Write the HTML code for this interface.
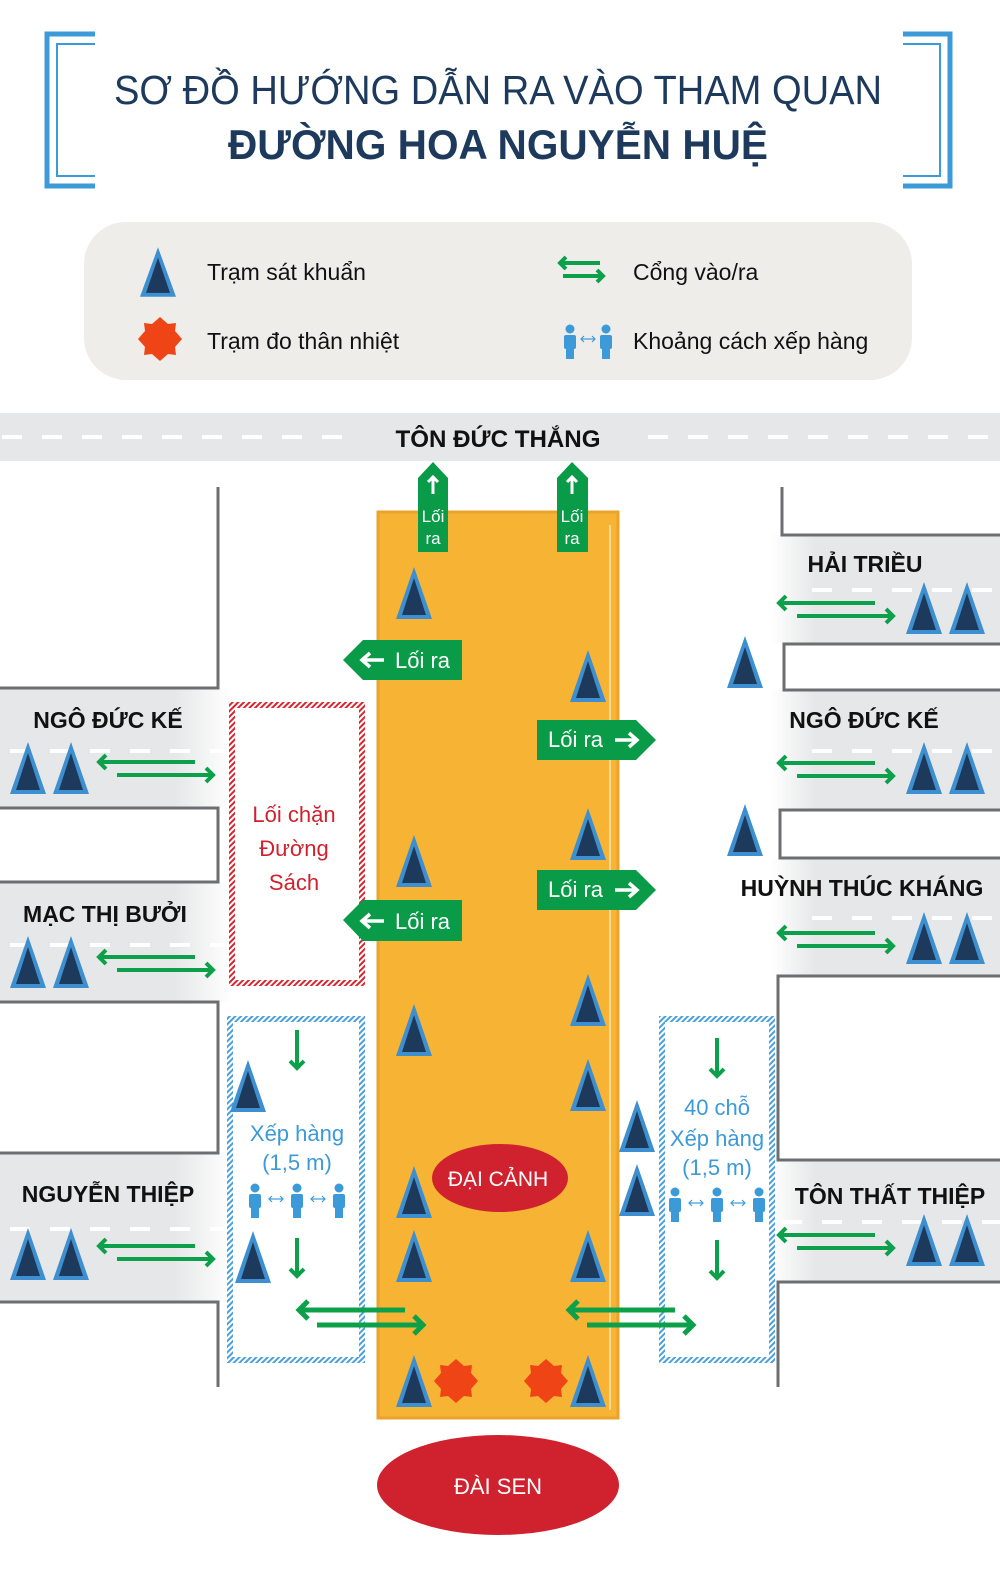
<!DOCTYPE html>
<html><head><meta charset="utf-8"><style>
html,body{margin:0;padding:0;background:#fff;}
svg{display:block;}
text{font-family:"Liberation Sans","DejaVu Sans",sans-serif;}
</style></head><body>
<svg width="1000" height="1575" viewBox="0 0 1000 1575" xmlns="http://www.w3.org/2000/svg">
<defs>
<pattern id="hr" width="4" height="4" patternUnits="userSpaceOnUse" patternTransform="rotate(45)"><rect width="2" height="4" fill="#d8252f"/></pattern>
<pattern id="hb" width="4" height="4" patternUnits="userSpaceOnUse" patternTransform="rotate(45)"><rect width="2" height="4" fill="#4aa0dc"/></pattern>
<linearGradient id="gl" x1="0" x2="1"><stop offset="0.75" stop-color="#e6e7e8"/><stop offset="1" stop-color="#fff"/></linearGradient>
<linearGradient id="gr" x1="1" x2="0"><stop offset="0.8" stop-color="#e6e7e8"/><stop offset="1" stop-color="#fff"/></linearGradient>
<g id="tri"><polygon points="0,-26 -18,26 18,26" fill="#3d8fd0"/><polygon points="0,-15 -12,22 12,22" fill="#1d3a5c"/></g>
<g id="star"><polygon points="0,-22 8,-15 16,-16 15,-8 22,0 15,8 16,16 8,15 0,22 -8,15 -16,16 -15,8 -22,0 -15,-8 -16,-16 -8,-15" fill="#ef4416"/></g>
<g id="pair" stroke="#0da04a" stroke-width="4" fill="none"><line x1="2" y1="0" x2="98" y2="0"/><polyline points="9,-7 2,0 9,7"/><line x1="20" y1="13" x2="116" y2="13"/><polyline points="109,6 116,13 109,20"/></g>
<g id="pairB" stroke="#0da04a" stroke-width="5" fill="none"><line x1="2" y1="0" x2="108" y2="0"/><polyline points="11,-9 2,0 11,9"/><line x1="20" y1="15" x2="126" y2="15"/><polyline points="117,6 126,15 117,24"/></g>
<g id="dn" stroke="#0da04a" stroke-width="4" fill="none"><line x1="0" y1="0" x2="0" y2="38"/><polyline points="-7,31 0,38 7,31"/></g>
<g id="per" fill="#3d9ad8"><circle cx="0" cy="-12" r="4.5"/><rect x="-6" y="-6" width="12" height="14" rx="2"/><rect x="-4" y="6" width="8" height="12"/></g>
<g id="dbl" stroke="#3d9ad8" stroke-width="1.2" fill="none"><line x1="-7" y1="0" x2="7" y2="0"/><polyline points="-4,-3 -7,0 -4,3"/><polyline points="4,-3 7,0 4,3"/></g>
<g id="people"><use href="#per" x="-42"/><use href="#per" x="0"/><use href="#per" x="42"/><use href="#dbl" x="-21" y="-1"/><use href="#dbl" x="21" y="-1"/></g>
</defs>

<g fill="none" stroke="#3d9ad8">
<polyline points="95,34 47,34 47,186 95,186" stroke-width="5"/>
<polyline points="95,44 57,44 57,176 95,176" stroke-width="2"/>
<polyline points="903,34 950,34 950,186 903,186" stroke-width="5"/>
<polyline points="903,44 940,44 940,176 903,176" stroke-width="2"/>
</g>
<text x="498" y="104" font-size="41" fill="#1d3a5c" text-anchor="middle" textLength="768" lengthAdjust="spacingAndGlyphs">SƠ ĐỒ HƯỚNG DẪN RA VÀO THAM QUAN</text>
<text x="498" y="159" font-size="42" font-weight="bold" fill="#1d3a5c" text-anchor="middle" textLength="540" lengthAdjust="spacingAndGlyphs">ĐƯỜNG HOA NGUYỄN HUỆ</text>

<rect x="84" y="222" width="828" height="158" rx="42" fill="#efedea"/>
<g transform="translate(158,272) scale(1,0.95)"><use href="#tri"/></g>
<text x="207" y="280" font-size="23" fill="#111">Trạm sát khuẩn</text>
<use href="#star" x="160" y="339"/>
<text x="207" y="349" font-size="23" fill="#111">Trạm đo thân nhiệt</text>
<g stroke="#0da04a" stroke-width="4" fill="none"><line x1="560" y1="263" x2="600" y2="263"/><polyline points="566,257 560,263 566,269"/><line x1="563" y1="276" x2="603" y2="276"/><polyline points="597,270 603,276 597,282"/></g>
<text x="633" y="280" font-size="23" fill="#111">Cổng vào/ra</text>
<g transform="translate(588,341)"><use href="#per" x="-18"/><use href="#per" x="18"/><use href="#dbl" x="0" y="-2"/></g>
<text x="633" y="349" font-size="23" fill="#111">Khoảng cách xếp hàng</text>

<rect x="0" y="413" width="1000" height="48" fill="#e6e7e8"/>
<g stroke="#fff" stroke-width="4" stroke-dasharray="20,20"><line x1="2" y1="437" x2="350" y2="437"/><line x1="648" y1="437" x2="1000" y2="437"/></g>
<text x="498" y="447" font-size="24" font-weight="bold" fill="#111" text-anchor="middle" textLength="205" lengthAdjust="spacingAndGlyphs">TÔN ĐỨC THẮNG</text>

<rect x="0" y="688" width="232" height="120" fill="url(#gl)"/>
<rect x="0" y="882" width="232" height="120" fill="url(#gl)"/>
<rect x="0" y="1152" width="232" height="150" fill="url(#gl)"/>
<g stroke="#fff" stroke-width="4" stroke-dasharray="20,20"><line x1="10" y1="751" x2="230" y2="751"/><line x1="10" y1="945" x2="230" y2="945"/><line x1="10" y1="1229" x2="230" y2="1229"/></g>
<g fill="none" stroke="#6d6e71" stroke-width="3">
<polyline points="218,487 218,688 0,688"/>
<polyline points="0,808 218,808 218,882 0,882"/>
<polyline points="0,1002 218,1002 218,1153 0,1153"/>
<polyline points="0,1302 218,1302 218,1387"/>
</g>
<text x="108" y="728" font-size="23" font-weight="bold" fill="#111" text-anchor="middle">NGÔ ĐỨC KẾ</text>
<text x="105" y="922" font-size="23" font-weight="bold" fill="#111" text-anchor="middle">MẠC THỊ BƯỞI</text>
<text x="108" y="1202" font-size="23" font-weight="bold" fill="#111" text-anchor="middle">NGUYỄN THIỆP</text>
<use href="#tri" x="28" y="768"/><use href="#tri" x="71" y="768"/>
<use href="#tri" x="28" y="962"/><use href="#tri" x="71" y="962"/>
<use href="#tri" x="28" y="1254"/><use href="#tri" x="71" y="1254"/>
<use href="#pair" x="97" y="762"/>
<use href="#pair" x="97" y="957"/>
<use href="#pair" x="97" y="1246"/>

<rect x="770" y="535" width="230" height="108" fill="url(#gr)"/>
<rect x="770" y="690" width="230" height="120" fill="url(#gr)"/>
<rect x="770" y="858" width="230" height="118" fill="url(#gr)"/>
<rect x="770" y="1160" width="230" height="122" fill="url(#gr)"/>
<g stroke="#fff" stroke-width="4" stroke-dasharray="20,20"><line x1="812" y1="590" x2="1000" y2="590"/><line x1="812" y1="751" x2="1000" y2="751"/><line x1="812" y1="918" x2="1000" y2="918"/><line x1="782" y1="1222" x2="1000" y2="1222"/></g>
<g fill="none" stroke="#6d6e71" stroke-width="3">
<polyline points="782,487 782,535 1000,535"/>
<polyline points="1000,644 784,644 784,690 1000,690"/>
<polyline points="1000,810 780,810 780,858 1000,858"/>
<polyline points="1000,976 778,976 778,1160 1000,1160"/>
<polyline points="1000,1282 778,1282 778,1387"/>
</g>
<text x="865" y="572" font-size="23" font-weight="bold" fill="#111" text-anchor="middle">HẢI TRIỀU</text>
<text x="864" y="728" font-size="23" font-weight="bold" fill="#111" text-anchor="middle">NGÔ ĐỨC KẾ</text>
<text x="862" y="896" font-size="23" font-weight="bold" fill="#111" text-anchor="middle">HUỲNH THÚC KHÁNG</text>
<text x="890" y="1204" font-size="23" font-weight="bold" fill="#111" text-anchor="middle">TÔN THẤT THIỆP</text>
<use href="#tri" x="924" y="608"/><use href="#tri" x="967" y="608"/>
<use href="#tri" x="924" y="768"/><use href="#tri" x="967" y="768"/>
<use href="#tri" x="924" y="938"/><use href="#tri" x="967" y="938"/>
<use href="#tri" x="924" y="1240"/><use href="#tri" x="967" y="1240"/>
<use href="#pair" x="777" y="603"/>
<use href="#pair" x="777" y="763"/>
<use href="#pair" x="777" y="933"/>
<use href="#pair" x="777" y="1235"/>
<use href="#tri" x="745" y="662"/><use href="#tri" x="745" y="830"/>

<rect x="378" y="512" width="240" height="906" fill="#f7b334" stroke="#eaa42c" stroke-width="3"/>
<line x1="610" y1="525" x2="610" y2="1410" stroke="#fde6b0" stroke-width="1.5"/>

<rect x="232" y="705" width="130" height="278" fill="#fff" stroke="url(#hr)" stroke-width="6"/>
<text font-size="22" fill="#d0222e" text-anchor="middle"><tspan x="294" y="822">Lối chặn</tspan><tspan x="294" y="856">Đường</tspan><tspan x="294" y="890">Sách</tspan></text>
<rect x="230" y="1019" width="132" height="341" fill="#fff" stroke="url(#hb)" stroke-width="6"/>
<rect x="662" y="1019" width="110" height="341" fill="#fff" stroke="url(#hb)" stroke-width="6"/>
<text font-size="22" fill="#3d9ad8" text-anchor="middle"><tspan x="297" y="1141">Xếp hàng</tspan><tspan x="297" y="1170">(1,5 m)</tspan></text>
<text font-size="22" fill="#3d9ad8" text-anchor="middle"><tspan x="717" y="1115">40 chỗ</tspan><tspan x="717" y="1146">Xếp hàng</tspan><tspan x="717" y="1175">(1,5 m)</tspan></text>
<use href="#people" x="297" y="1200"/>
<use href="#people" x="717" y="1204"/>
<use href="#dn" x="297" y="1030"/><use href="#dn" x="297" y="1238"/>
<use href="#dn" x="717" y="1038"/><use href="#dn" x="717" y="1240"/>
<use href="#pairB" x="297" y="1310"/>
<use href="#pairB" x="567" y="1310"/>
<use href="#tri" x="248" y="1086"/><use href="#tri" x="253" y="1257"/>
<use href="#tri" x="637" y="1126"/><use href="#tri" x="637" y="1190"/>

<use href="#tri" x="414" y="593"/><use href="#tri" x="588" y="676"/>
<use href="#tri" x="414" y="861"/><use href="#tri" x="588" y="834"/>
<use href="#tri" x="588" y="1000"/><use href="#tri" x="414" y="1030"/>
<use href="#tri" x="588" y="1085"/><use href="#tri" x="414" y="1192"/>
<use href="#tri" x="414" y="1256"/><use href="#tri" x="588" y="1256"/>
<use href="#tri" x="414" y="1381"/><use href="#tri" x="588" y="1381"/>
<use href="#star" x="456" y="1381"/><use href="#star" x="546" y="1381"/>

<g fill="#0a9b48">
<polygon points="418,552 418,478 433,462 448,478 448,552"/>
<polygon points="557,552 557,478 572,462 588,478 588,552"/>
<polygon points="462,640 363,640 343,660 363,680 462,680"/>
<polygon points="462,900 363,900 343,920 363,941 462,941"/>
<polygon points="537,720 636,720 656,740 636,760 537,760"/>
<polygon points="537,870 636,870 656,890 636,910 537,910"/>
</g>
<g stroke="#fff" stroke-width="3" fill="none">
<line x1="433" y1="477" x2="433" y2="494"/><polyline points="428,482 433,477 438,482"/>
<line x1="572" y1="477" x2="572" y2="494"/><polyline points="567,482 572,477 577,482"/>
</g>
<g fill="#fff" font-size="17" text-anchor="middle">
<text x="433" y="522">Lối</text><text x="433" y="544">ra</text>
<text x="572" y="522">Lối</text><text x="572" y="544">ra</text>
</g>
<g fill="#fff" font-size="22">
<text x="395" y="668">Lối ra</text>
<text x="395" y="929">Lối ra</text>
<text x="548" y="747">Lối ra</text>
<text x="548" y="897">Lối ra</text>
</g>
<g stroke="#fff" stroke-width="3.5" fill="none">
<line x1="362" y1="660" x2="384" y2="660"/><polyline points="370,653 362,660 370,667"/>
<line x1="362" y1="921" x2="384" y2="921"/><polyline points="370,914 362,921 370,928"/>
<line x1="615" y1="740" x2="637" y2="740"/><polyline points="629,733 637,740 629,747"/>
<line x1="615" y1="890" x2="637" y2="890"/><polyline points="629,883 637,890 629,897"/>
</g>

<ellipse cx="500" cy="1178" rx="68" ry="34" fill="#d0222e"/>
<text x="498" y="1186" font-size="21" fill="#fff" text-anchor="middle">ĐẠI CẢNH</text>
<ellipse cx="498" cy="1485" rx="121" ry="50" fill="#d0222e"/>
<text x="498" y="1494" font-size="22" fill="#fff" text-anchor="middle">ĐÀI SEN</text>
</svg>
</body></html>
